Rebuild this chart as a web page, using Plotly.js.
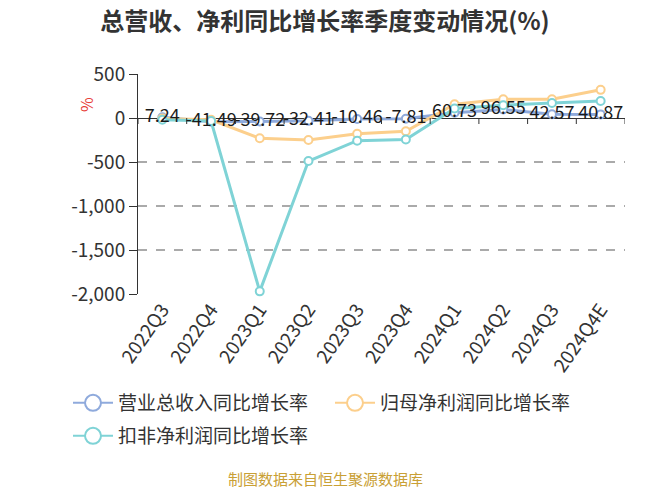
<!DOCTYPE html>
<html>
<head>
<meta charset="utf-8">
<script src="https://cdn.plot.ly/plotly-3.0.1.min.js"></script>
<style>html,body{margin:0;padding:0;background:#fff;}#chart{width:650px;height:488px;}</style>
</head>
<body>
<div id="chart"></div>
<script>
// ---- data ----
const categories = ['2022Q3','2022Q4','2023Q1','2023Q2','2023Q3','2023Q4','2024Q1','2024Q2','2024Q3','2024Q4E'];
const revenueGrowth = [7.24, -41.49, -39.72, -32.41, -10.46, -7.81, 60.73, 96.55, 42.57, 40.87];
const netProfitGrowth = [-5, -20, -230, -250, -180, -150, 156, 213, 213, 320];
const deductedNetGrowth = [-20, -35, -1970, -489, -258, -244, 108, 145, 170, 193];
const seriesNames = ['营业总收入同比增长率', '归母净利润同比增长率', '扣非净利润同比增长率'];
const yTickVals = [-2000, -1500, -1000, -500, 0, 500];
const yTickText = ['-2,000', '-1,500', '-1,000', '-500', '0', '500'];

const FONT = '"Noto Sans CJK SC", "Noto Sans", sans-serif';
const colors = ['#8FAADC', '#FCCF8C', '#7FD3D6'];
const seriesData = [revenueGrowth, netProfitGrowth, deductedNetGrowth];
const legendIds = ['legend', 'legend2', 'legend3'];

const traces = [];
seriesData.forEach((ys, i) => {
  traces.push({
    type: 'scatter', mode: 'lines+markers', x: categories, y: ys,
    name: seriesNames[i], showlegend: false, cliponaxis: false,
    line: {color: colors[i], width: 3},
    marker: {symbol: 'circle', size: 8, color: '#fff', line: {color: colors[i], width: 2}},
    hoverinfo: 'x+y'
  });
});
// data labels for revenue series, drawn on top
traces.push({
  type: 'scatter', mode: 'text', x: categories, y: revenueGrowth,
  text: revenueGrowth.map(v => v.toFixed(2)), textposition: 'middle center',
  textfont: {family: FONT, size: 18, color: '#1a1a1a'},
  showlegend: false, hoverinfo: 'skip', cliponaxis: false
});
// legend entries (larger hollow circle icons), one legend each
seriesNames.forEach((n, i) => {
  traces.push({
    type: 'scatter', mode: 'lines+markers', x: [null], y: [null], name: n,
    legend: legendIds[i],
    line: {color: colors[i], width: 2},
    marker: {symbol: 'circle', size: 17, color: '#fff', line: {color: colors[i], width: 2}},
    hoverinfo: 'skip'
  });
});

const shapes = [];
for (let k = 0; k <= categories.length; k++) {
  shapes.push({
    type: 'line', xref: 'x', yref: 'y', ysizemode: 'pixel', yanchor: 0,
    x0: k - 0.5, x1: k - 0.5, y0: 0, y1: -6,
    line: {color: '#333', width: 1}
  });
}

function legendAt(px, py) {
  return {
    orientation: 'h', xref: 'container', yref: 'container',
    x: px / 650, xanchor: 'left', y: 1 - py / 488, yanchor: 'top',
    font: {family: FONT, size: 19, color: '#333'},
    itemwidth: 40, bgcolor: 'rgba(0,0,0,0)'
  };
}

const plotLeft = 138, plotW = 487, plotTop = 74, plotBottom = 294;
const layout = {
  width: 650, height: 488,
  margin: {l: plotLeft, r: 650 - plotLeft - plotW, t: plotTop, b: 488 - plotBottom, autoexpand: false},
  paper_bgcolor: '#fff', plot_bgcolor: '#fff',
  font: {family: FONT, color: '#333'},
  title: {
    text: '<b>总营收、净利同比增长率季度变动情况(%)</b>',
    font: {family: FONT, size: 24, color: '#333'},
    x: 0.5, xref: 'container', xanchor: 'center',
    y: 1 - 22/488, yref: 'container', yanchor: 'middle'
  },
  xaxis: {
    type: 'category', range: [-0.5, categories.length - 0.5],
    showline: false, showgrid: false, zeroline: false, ticks: '',
    tickangle: -55, tickfont: {family: FONT, size: 19, color: '#333'},
    fixedrange: true
  },
  yaxis: {
    range: [-2000, 500], tickvals: yTickVals, ticktext: yTickText,
    showline: true, linecolor: '#333', linewidth: 1,
    ticks: 'outside', ticklen: 8, tickcolor: '#333', tickwidth: 1,
    showgrid: true, gridcolor: '#aaaaaa', gridwidth: 1.5, griddash: 'dash',
    zeroline: true, zerolinecolor: '#333', zerolinewidth: 1,
    tickfont: {family: FONT, size: 19, color: '#333'},
    fixedrange: true
  },
  legend: legendAt(68, 384),
  legend2: legendAt(330, 384),
  legend3: legendAt(68, 417),
  shapes: shapes,
  annotations: [
    {text: '%', xref: 'paper', yref: 'paper',
     x: (86 - plotLeft) / plotW, xanchor: 'center',
     y: (plotBottom - 105) / (plotBottom - plotTop), yanchor: 'middle',
     showarrow: false, textangle: -90, font: {family: FONT, size: 16, color: '#e8403a'}},
    {text: '制图数据来自恒生聚源数据库', xref: 'paper', yref: 'paper',
     x: (325 - plotLeft) / plotW, xanchor: 'center',
     y: (plotBottom - 478) / (plotBottom - plotTop), yanchor: 'middle', showarrow: false,
     font: {family: FONT, size: 15, color: '#C9A035'}}
  ],
  showlegend: true
};

Plotly.newPlot('chart', traces, layout, {displayModeBar: false, staticPlot: true});
</script>
</body>
</html>
